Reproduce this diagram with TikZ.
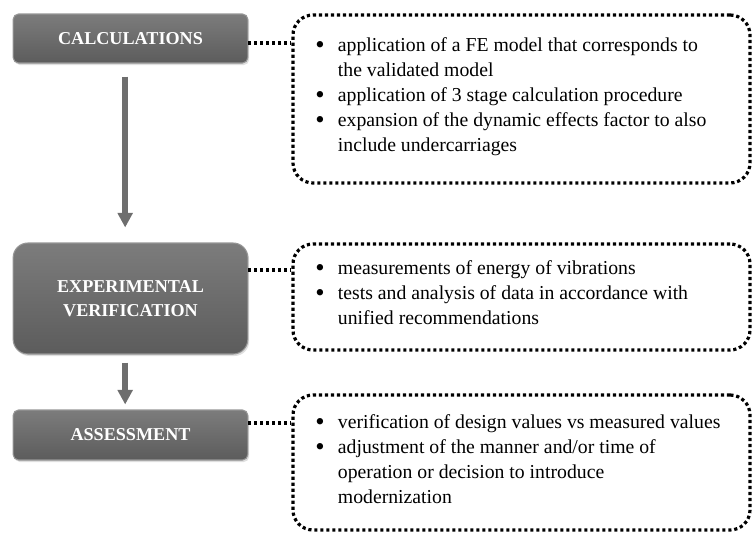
\documentclass[tikz,border=0pt]{standalone}
\usepackage{fontspec}
\setmainfont{Liberation Serif}
\usetikzlibrary{arrows.meta,shadows}

\definecolor{stagetop}{HTML}{7C7C7C}
\definecolor{stagebottom}{HTML}{5C5C5C}
\definecolor{stageedge}{HTML}{969696}
\definecolor{flowgray}{HTML}{6E6E6E}

\newcommand{\bul}{\makebox[17pt][l]{\raisebox{-1.6pt}{\scalebox{1.35}{\textbullet}}}}

\tikzset{
  stage/.style={draw=stageedge, line width=0.8pt, rounded corners=4pt, top color=stagetop, bottom color=stagebottom, text=white, font=\fontsize{13.6}{18}\selectfont\bfseries, align=center, minimum width=176pt, inner sep=0pt, drop shadow={opacity=0.25, shadow xshift=1pt, shadow yshift=-1.5pt}},
  info/.style={draw, line width=2.4pt, dash pattern=on 2.4pt off 2.1pt, rounded corners=15pt, minimum width=342.75pt, inner sep=0pt},
  infotext/.style={anchor=west, inner sep=0pt, align=left, font=\fontsize{14.8}{18.75}\selectfont},
  dotlink/.style={draw=black, line width=2.4pt, dash pattern=on 2.4pt off 2.1pt},
  flow/.style={draw=flowgray, line width=4.5pt, -{Triangle[width=11pt,length=11pt]}}
}

\begin{document}
\begin{tikzpicture}[x=0.75pt, y=-0.75pt]
\useasboundingbox (0,0) rectangle (756,532);

% stages
\node[stage, minimum height=36.75pt] (calc) at (130.5,38.5) {CALCULATIONS};
\node[stage, minimum height=83.25pt, rounded corners=11pt] (expv) at (130.5,298.5) {EXPERIMENTAL\\VERIFICATION};
\node[stage, minimum height=37.5pt] (assess) at (130.5,435) {ASSESSMENT};

% dotted frames
\node[info, minimum height=126pt] (calcinfo) at (521.5,99) {};
\node[info, minimum height=79.5pt] (expvinfo) at (521.5,297) {};
\node[info, minimum height=101.25pt] (assessinfo) at (521.5,462.5) {};

% frame texts
\node[infotext] (calctext) at (315,96) {\begin{tabular}{@{}l@{}l@{}}
\bul & application of a FE model that corresponds to\\
 & the validated model\\
\bul & application of 3 stage calculation procedure\\
\bul & expansion of the dynamic effects factor to also\\
 & include undercarriages
\end{tabular}};
\node[infotext] (expvtext) at (315,294) {\begin{tabular}{@{}l@{}l@{}}
\bul & measurements of energy of vibrations\\
\bul & tests and analysis of data in accordance with\\
 & unified recommendations
\end{tabular}};
\node[infotext] (assesstext) at (315,461) {\begin{tabular}{@{}l@{}l@{}}
\bul & verification of design values vs measured values\\
\bul & adjustment of the manner and/or time of\\
 & operation or decision to introduce\\
 & modernization
\end{tabular}};

% links
\coordinate (calclink) at (248,43);
\coordinate (expvlink) at (248,270);
\coordinate (assesslink) at (248,423);
\draw[dotlink] (calclink) -- (calclink -| calcinfo.west);
\draw[dotlink] (expvlink) -- (expvlink -| expvinfo.west);
\draw[dotlink] (assesslink) -- (assesslink -| assessinfo.west);

% flow
\draw[flow] ([xshift=-4pt,yshift=-9.75pt]calc.south) -- ([xshift=-4pt,yshift=11.25pt]expv.north);
\draw[flow] ([xshift=-4pt,yshift=-6pt]expv.south) -- ([xshift=-4pt,yshift=3.75pt]assess.north);
\end{tikzpicture}
\end{document}
